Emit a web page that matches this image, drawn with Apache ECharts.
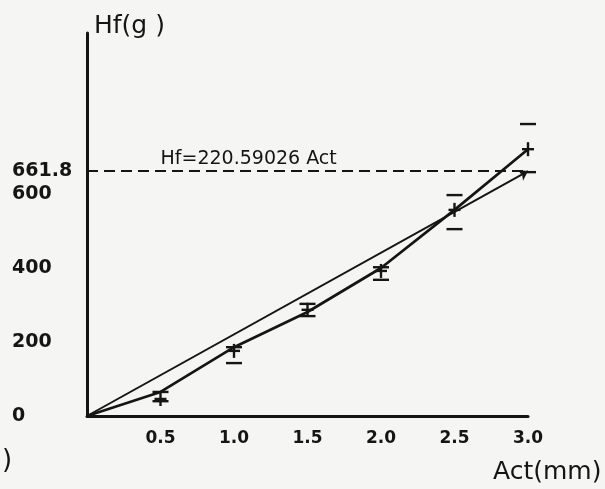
<!DOCTYPE html>
<html><head><meta charset="utf-8">
<script src="https://cdn.jsdelivr.net/npm/echarts@6/dist/echarts.min.js"></script>
<style>html,body{margin:0;padding:0;background:#f5f5f3;}#c{width:605px;height:489px;}</style>
</head><body><div id="c"></div>
<script>
// Data
const actValues = [0, 0.5, 1.0, 1.5, 2.0, 2.5, 3.0];          // Act (mm)
const hfCurve   = [0, 65, 186, 281, 400, 557, 721];             // measured curve Hf (g)
const errLow    = [null, 40, 143, 270, 368, 505, 659];          // lower error caps
const errHigh   = [null, 65, 186, 303, 402, 597, 789];          // upper error caps
const errMean   = [null, 46, 176, 287, 392, 557, 721];          // "+" marks
const regSlope  = 220.59026;                                    // Hf = 220.59026 Act
const regEndAct = 3.0;
const regEndHf  = 661.8;
const yTickLabels = [0, 200, 400, 600, 661.8];
const xTickLabels = [0.5, 1.0, 1.5, 2.0, 2.5, 3.0];
const regLabel = 'Hf=220.59026 Act';
const regLabelAct = 0.5;

const INK = '#151515';
const FONT = 'DejaVu Sans';

const curveData = actValues.map((a, i) => [a, hfCurve[i]]);
const errData = actValues.map((a, i) => [a, errLow[i], errHigh[i], errMean[i]]).filter(d => d[1] != null);

const chart = echarts.init(document.getElementById('c'), null, {renderer: 'canvas'});
chart.setOption({
  backgroundColor: '#f5f5f3',
  animation: false,
  grid: {left: 87, right: 77, top: 33, bottom: 73},
  xAxis: {
    type: 'value', min: 0, max: 3, interval: 0.5,
    axisLine: {show: true, onZero: false, lineStyle: {color: INK, width: 3}},
    axisTick: {show: false}, splitLine: {show: false},
    axisLabel: {
      margin: 14, color: INK, fontFamily: FONT, fontSize: 17, fontWeight: 'bold',
      formatter: v => (xTickLabels.indexOf(v) >= 0 ? v.toFixed(1) : '')
    }
  },
  yAxis: {
    type: 'value', min: 0, max: 1035,
    axisLine: {show: true, onZero: false, lineStyle: {color: INK, width: 3}},
    axisTick: {show: false}, splitLine: {show: false},
    axisLabel: {
      customValues: yTickLabels,
      margin: 75, align: 'left', color: INK, fontFamily: FONT, fontSize: 19, fontWeight: 'bold',
      formatter: v => String(v)
    }
  },
  series: [
    {
      type: 'line', data: curveData, symbol: 'none',
      lineStyle: {color: INK, width: 2.7}, z: 3,
      markLine: {
        silent: true, symbol: ['none', 'none'], label: {show: false},
        data: [
          [{coord: [0, regEndHf], lineStyle: {type: [11, 6], width: 2.2, color: INK}},
           {coord: [regEndAct, regEndHf]}],
          [{coord: [0, 0], lineStyle: {type: 'solid', width: 2, color: INK}, symbol: 'none'},
           {coord: [regEndAct, regSlope * regEndAct], symbol: 'arrow', symbolSize: 9}]
        ]
      }
    },
    {
      type: 'custom', data: errData, z: 4,
      renderItem: function (params, api) {
        const x = api.value(0);
        const lo = api.coord([x, api.value(1)]);
        const hi = api.coord([x, api.value(2)]);
        const mn = api.coord([x, api.value(3)]);
        const cw = 8, pw = 6;
        const st = {stroke: INK, lineWidth: 2.4};
        return {type: 'group', children: [
          {type: 'line', shape: {x1: mn[0], y1: mn[1] - 7, x2: mn[0], y2: mn[1] + 7}, style: st},
          {type: 'line', shape: {x1: mn[0] - pw, y1: mn[1], x2: mn[0] + pw, y2: mn[1]}, style: st},
          {type: 'line', shape: {x1: lo[0] - cw, y1: lo[1], x2: lo[0] + cw, y2: lo[1]}, style: st},
          {type: 'line', shape: {x1: hi[0] - cw, y1: hi[1], x2: hi[0] + cw, y2: hi[1]}, style: st}
        ]};
      }
    }
  ]
});

const lp = chart.convertToPixel({gridIndex: 0}, [regLabelAct, regEndHf]);
chart.setOption({
  graphic: [
    {type: 'text', left: 94, top: 14, style: {text: 'Hf(g )', font: '25px ' + FONT, fill: INK}},
    {type: 'text', left: 493, top: 460, style: {text: 'Act(mm)', font: '25px ' + FONT, fill: INK}},
    {type: 'text', left: 2, top: 448, style: {text: ')', font: '26px ' + FONT, fill: INK}},
    {type: 'text', x: lp[0], y: lp[1] - 3, style: {text: regLabel, font: '19px ' + FONT, fill: INK, textVerticalAlign: 'bottom'}}
  ]
});
</script></body></html>
